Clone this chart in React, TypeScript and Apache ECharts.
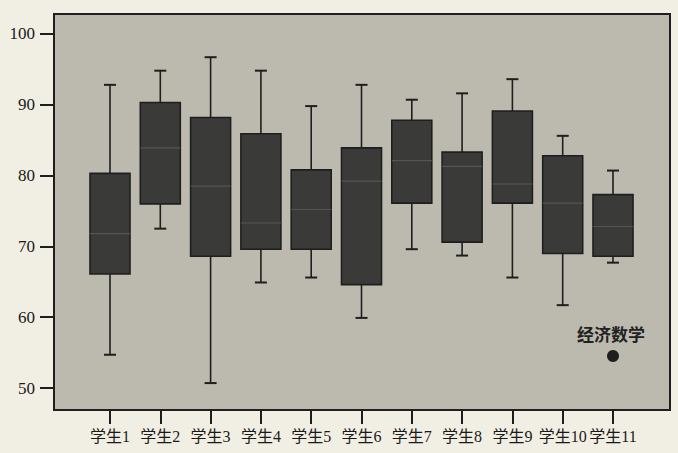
import React, { useEffect, useRef } from "react";
import * as echarts from "echarts";

const categories = ["学生1", "学生2", "学生3", "学生4", "学生5", "学生6", "学生7", "学生8", "学生9", "学生10", "学生11"];
const lowWhisker = [54.7, 72.5, 50.7, 64.9, 65.6, 59.9, 69.6, 68.7, 65.6, 61.7, 67.7];
const q1Values = [66.1, 76.0, 68.6, 69.6, 69.6, 64.6, 76.1, 70.6, 76.1, 69.0, 68.6];
const medians = [71.8, 83.9, 78.5, 73.3, 75.2, 79.2, 82.1, 81.3, 78.8, 76.1, 72.8];
const q3Values = [80.3, 90.3, 88.2, 85.9, 80.8, 83.9, 87.8, 83.3, 89.1, 82.8, 77.3];
const highWhisker = [92.8, 94.8, 96.7, 94.8, 89.8, 92.8, 90.7, 91.6, 93.6, 85.6, 80.7];
const yTicks = [50, 60, 70, 80, 90, 100];
const legendName = "经济数学";

const Y_MIN = 46.9;
const Y_MAX = 102.8;

export default function App() {
  const ref = useRef<HTMLDivElement>(null);
  useEffect(() => {
    if (!ref.current) return;
    const chart = echarts.init(ref.current, null, { renderer: "svg" });
    const data = categories.map((_, i) => [i, lowWhisker[i], q1Values[i], medians[i], q3Values[i], highWhisker[i]]);
    const font = "'Liberation Serif', 'Noto Sans CJK SC', serif";
    const option: any = {
      animation: false,
      backgroundColor: "#f1eee3",
      grid: [
        { left: 54, top: 14, right: 8, bottom: 43, show: true, backgroundColor: "#bcbaaf", borderColor: "#1e1e1e", borderWidth: 2 },
        { left: 84.85, top: 14, right: 39.85, bottom: 43 },
      ],
      xAxis: [
        { type: "value", gridIndex: 0, min: 0, max: 1, show: false },
        {
          type: "category",
          gridIndex: 1,
          data: categories,
          boundaryGap: true,
          axisLine: { show: false },
          axisTick: { show: true, alignWithLabel: true, length: 14, lineStyle: { color: "#1e1e1e", width: 2 } },
          axisLabel: { color: "#1a1a1a", fontSize: 16, fontFamily: font, margin: 18, interval: 0 },
          splitLine: { show: false },
        },
      ],
      yAxis: [
        {
          type: "value",
          gridIndex: 0,
          min: Y_MIN,
          max: Y_MAX,
          axisLine: { show: false },
          axisTick: { show: true, customValues: yTicks, length: 14, lineStyle: { color: "#1e1e1e", width: 2 } },
          axisLabel: { customValues: yTicks, color: "#1a1a1a", fontSize: 17, fontFamily: font, margin: 19 },
          splitLine: { show: false },
        },
        { type: "value", gridIndex: 1, min: Y_MIN, max: Y_MAX, show: false },
      ],
      series: [
        {
          type: "custom",
          xAxisIndex: 1,
          yAxisIndex: 1,
          data,
          encode: { x: 0, y: [1, 2, 3, 4, 5] },
          renderItem: (params: any, api: any) => {
            const x = api.value(0);
            const pMin = api.coord([x, api.value(1)]);
            const pQ1 = api.coord([x, api.value(2)]);
            const pMed = api.coord([x, api.value(3)]);
            const pQ3 = api.coord([x, api.value(4)]);
            const pMax = api.coord([x, api.value(5)]);
            const cx = pMin[0];
            const hw = 20;
            const cap = 6;
            const lineStyle = { stroke: "#1e1e1e", lineWidth: 1.6 };
            return {
              type: "group",
              children: [
                { type: "line", shape: { x1: cx, y1: pMax[1], x2: cx, y2: pMin[1] }, style: lineStyle },
                { type: "line", shape: { x1: cx - cap, y1: pMax[1], x2: cx + cap, y2: pMax[1] }, style: { stroke: "#1e1e1e", lineWidth: 2 } },
                { type: "line", shape: { x1: cx - cap, y1: pMin[1], x2: cx + cap, y2: pMin[1] }, style: { stroke: "#1e1e1e", lineWidth: 2 } },
                {
                  type: "rect",
                  shape: { x: cx - hw, y: pQ3[1], width: hw * 2, height: pQ1[1] - pQ3[1] },
                  style: { fill: "#3a3a38", stroke: "#1e1e1e", lineWidth: 1.6 },
                },
                { type: "line", shape: { x1: cx - hw, y1: pMed[1], x2: cx + hw, y2: pMed[1] }, style: { stroke: "#555552", lineWidth: 1.2 } },
              ],
            };
          },
        },
      ],
      graphic: [
        { type: "text", left: 577, top: 327, style: { text: legendName, fontSize: 17, fontWeight: "bold", fontFamily: font, fill: "#222" } },
        { type: "circle", shape: { cx: 613, cy: 356, r: 6 }, style: { fill: "#1e1e1e" } },
      ],
    };
    chart.setOption(option);
    return () => chart.dispose();
  }, []);
  return <div ref={ref} style={{ position: "fixed", left: 0, top: 0, width: 678, height: 453 }} />;
}
